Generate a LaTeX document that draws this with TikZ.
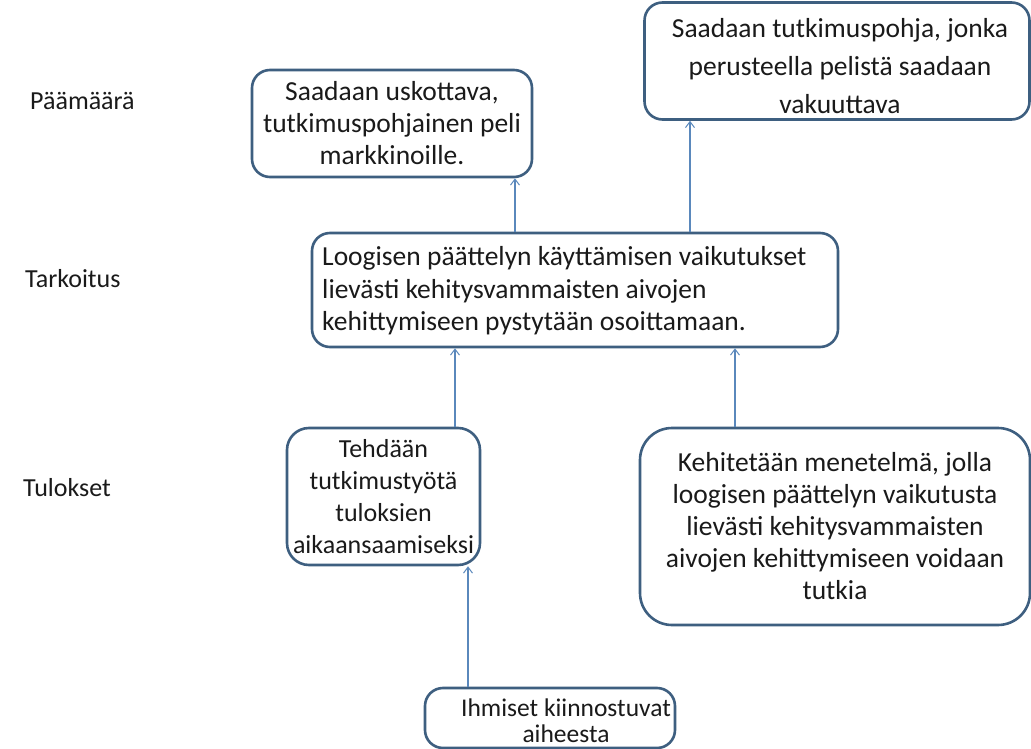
\documentclass[tikz,border=0pt]{standalone}
\usepackage{fontspec}
\setmainfont{Carlito}
\usetikzlibrary{arrows.meta}
\definecolor{boxline}{HTML}{3E5F80}
\definecolor{linkline}{HTML}{5A88BC}
\definecolor{ink}{HTML}{1A1A1A}
\tikzset{
  goalbox/.style={draw=boxline, line width=2.6pt, rounded corners=18pt, fill=white,
    text=ink, align=center, inner sep=0pt, font=\fontsize{27.5}{32}\selectfont},
  boxtext/.style={text=ink, inner sep=0pt, font=\fontsize{27.5}{32.5}\selectfont},
  rowlabel/.style={text=ink, anchor=west, inner sep=0pt, font=\fontsize{26}{30}\selectfont},
  link/.style={draw=linkline, line width=1.1pt, -{Straight Barb[length=6pt,width=9pt,line width=1pt]}}
}
\begin{document}
\begin{tikzpicture}[x=1pt,y=-1pt]
\useasboundingbox[fill=white] (0,0) rectangle (1031,749);

% row labels
\node[rowlabel] (lblgoal) at (30,101) {Päämäärä};
\node[rowlabel] (lblpurpose) at (25,279) {Tarkoitus};
\node[rowlabel] (lblresults) at (23,488) {Tulokset};

% goal level
\node[goalbox, minimum width=280pt, minimum height=107pt] (gameA) at (392,123.5)
  {Saadaan uskottava,\\tutkimuspohjainen peli\\markkinoille.};
\node[goalbox, minimum width=385pt, minimum height=117pt] (baseB) at (837,61) {};
\node[boxtext, align=center, font=\fontsize{27.5}{38}\selectfont] (baseBtext) at (840,66)
  {Saadaan tutkimuspohja, jonka\\perusteella pelistä saadaan\\vakuuttava};

% purpose level: box and its left-aligned text
\node[goalbox, minimum width=526pt, minimum height=114pt] (purpose) at (575,290) {};
\node[boxtext, align=left, anchor=west] (purposetext) at (322,291)
  {Loogisen päättelyn käyttämisen vaikutukset\\lievästi kehitysvammaisten aivojen\\kehittymiseen pystytään osoittamaan.};

% results level
\node[goalbox, minimum width=193pt, minimum height=137pt, rounded corners=22pt, font=\fontsize{26}{32}\selectfont] (research) at (383.5,496.5)
  {Tehdään\\tutkimustyötä\\tuloksien\\aikaansaamiseksi};
\node[goalbox, minimum width=390pt, minimum height=197pt, rounded corners=32pt] (method) at (835,526.5)
  {Kehitetään menetelmä, jolla\\loogisen päättelyn vaikutusta\\lievästi kehitysvammaisten\\aivojen kehittymiseen voidaan\\tutkia};

% starting point
\node[goalbox, minimum width=250pt, minimum height=60pt] (people) at (550,718) {};
\node[boxtext, align=center, font=\fontsize{25.5}{26}\selectfont] (peopletext) at (566,721)
  {Ihmiset kiinnostuvat\\aiheesta};

% links
\draw[link] (purpose.north -| 515,0) -- (gameA.south -| 515,0);
\draw[link] (purpose.north -| 690,0) -- (baseB.south -| 690,0);
\draw[link] (research.north -| 455,0) -- (purpose.south -| 455,0);
\draw[link] (method.north -| 735,0) -- (purpose.south -| 735,0);
\draw[link] (people.north -| 468,0) -- (research.south -| 468,0);
\end{tikzpicture}
\end{document}
